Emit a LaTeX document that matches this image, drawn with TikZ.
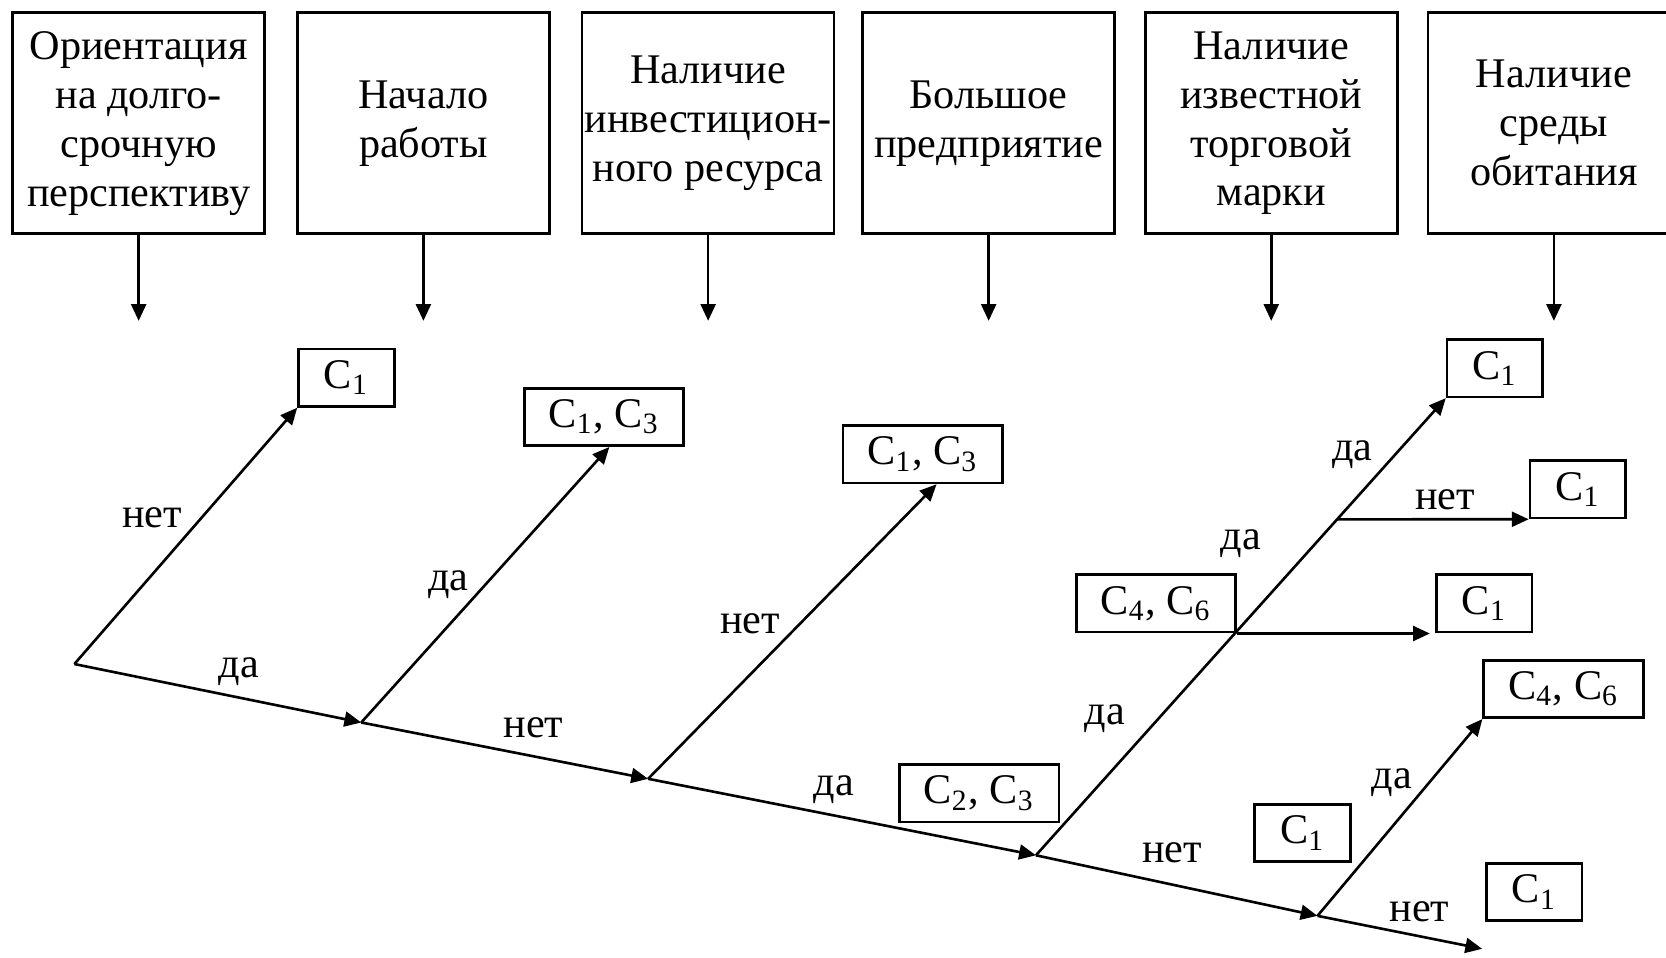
\documentclass[tikz,border=0pt]{standalone}
\usepackage{fontspec}
\setmainfont{Liberation Serif}
\usetikzlibrary{arrows.meta}

\begin{document}
\begin{tikzpicture}[x=0.01cm,y=-0.01cm,
  font=\fontsize{11.3}{13.1}\selectfont,
  line width=0.7pt,
  crit/.style={draw,minimum width=2.37cm,minimum height=2.08cm,align=center,inner sep=0pt},
  res/.style={draw,minimum width=0.9cm,minimum height=0.54cm,inner sep=0pt},
  resw/.style={res,minimum width=1.5cm},
  arr/.style={-{Triangle[length=4.5pt,width=4pt]}},
  lbl/.style={inner sep=0pt}]
\useasboundingbox (0,0) rectangle (1568,901);

% criteria
\node[crit] (orient) at (130.5,116) {Ориентация\\на долго-\\срочную\\перспективу};
\node[crit] (start) at (398.5,116) {Начало\\работы};
\node[crit] (invest) at (666.5,116) {Наличие\\инвестицион-\\ного ресурса};
\node[crit] (big) at (930.5,116) {Большое\\предприятие};
\node[crit] (brand) at (1196.5,116) {Наличие\\известной\\торговой\\марки};
\node[crit] (habitat) at (1462.5,116) {Наличие\\среды\\обитания};

\coordinate (d1) at (130.5,302);
\coordinate (d2) at (398.5,302);
\coordinate (d3) at (666.5,302);
\coordinate (d4) at (930.5,302);
\coordinate (d5) at (1196.5,302);
\coordinate (d6) at (1462.5,302);
\draw[arr] (orient) -- (d1);
\draw[arr] (start) -- (d2);
\draw[arr] (invest) -- (d3);
\draw[arr] (big) -- (d4);
\draw[arr] (brand) -- (d5);
\draw[arr] (habitat) -- (d6);

% results
\node[res] (r1) at (326,355.5) {C\textsubscript{1}};
\node[resw] (r2) at (568.5,392.5) {C\textsubscript{1}, C\textsubscript{3}};
\node[resw] (r3) at (868.5,427.5) {C\textsubscript{1}, C\textsubscript{3}};
\node[resw] (r4) at (921.5,746.5) {C\textsubscript{2}, C\textsubscript{3}};
\node[resw] (r5) at (1088,568) {C\textsubscript{4}, C\textsubscript{6}};
\node[res] (r6) at (1407,346.5) {C\textsubscript{1}};
\node[res] (r7) at (1485,460.5) {C\textsubscript{1}};
\node[res] (r8) at (1397,568) {C\textsubscript{1}};
\node[resw] (r9) at (1471.5,648.5) {C\textsubscript{4}, C\textsubscript{6}};
\node[res] (r10) at (1226,784) {C\textsubscript{1}};
\node[res] (r11) at (1444,839.5) {C\textsubscript{1}};

% main line
\coordinate (s0) at (70,625);
\coordinate (s1) at (340,680);
\coordinate (s2) at (610,733);
\coordinate (s3) at (975,805);
\coordinate (s4) at (1240,862);
\coordinate (s5) at (1395,893);
\draw[arr] (s0) -- (s1);
\draw[arr] (s1) -- (s2);
\draw[arr] (s2) -- (s3);
\draw[arr] (s3) -- (s4);
\draw[arr] (s4) -- (s5);

% branches
\draw[arr] (s0) -- (r1.south west);
\draw[arr] (s1) -- ([xshift=0.05cm]r2.south);
\draw[arr] (s2) -- ([xshift=0.13cm]r3.south);
\draw[arr] (s3) -- (r6.south west);
\draw[arr] (s4) -- (r9.south west);
\draw[arr] (r5.south east) -- ([xshift=-0.05cm]r8.south west);
\coordinate (k) at (intersection of s3--r6.south west and r7.south west--r7.south east);
\draw[arr] (k) -- (r7.south west);

% labels
\node[lbl] (l1) at (143,487) {нет};
\node[lbl] (l2) at (225,632) {да};
\node[lbl] (l3) at (422,550) {да};
\node[lbl] (l4) at (502,685) {нет};
\node[lbl] (l5) at (706,587) {нет};
\node[lbl] (l6) at (785,743) {да};
\node[lbl] (l7) at (1040,676) {да};
\node[lbl] (l8) at (1168,512) {да};
\node[lbl] (l9) at (1273,428) {да};
\node[lbl] (l10) at (1360,470) {нет};
\node[lbl] (l11) at (1103,803) {нет};
\node[lbl] (l12) at (1310,737) {да};
\node[lbl] (l13) at (1336,858) {нет};
\end{tikzpicture}
\end{document}
